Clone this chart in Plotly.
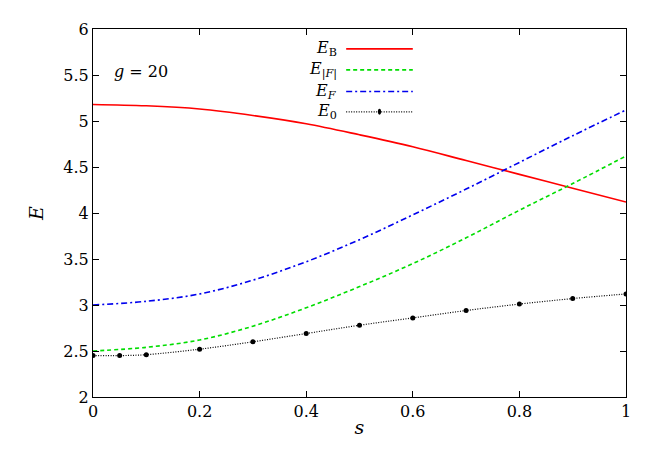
import plotly.graph_objects as go

s = [0, 0.1, 0.2, 0.3, 0.4, 0.5, 0.6, 0.7, 0.8, 0.9, 1.0]
E_B = [5.18, 5.165, 5.13, 5.06, 4.97, 4.85, 4.72, 4.57, 4.42, 4.27, 4.12]
E_absF = [2.50, 2.54, 2.62, 2.77, 2.97, 3.20, 3.45, 3.73, 4.03, 4.32, 4.62]
E_F = [3.00, 3.04, 3.12, 3.27, 3.47, 3.71, 3.98, 4.26, 4.55, 4.84, 5.12]
s0 = [0, 0.05, 0.1, 0.2, 0.3, 0.4, 0.5, 0.6, 0.7, 0.8, 0.9, 1.0]
E_0 = [2.45, 2.45, 2.46, 2.52, 2.60, 2.69, 2.78, 2.86, 2.94, 3.01, 3.07, 3.12]

DASH = "4px,3px"
DASHDOT = "6px,3px,2px,3px"
DOT = "1px,1.5px"
fig = go.Figure()
fig.add_trace(go.Scatter(x=s, y=E_B, mode="lines", line=dict(color="#ff0000", width=1.6, shape="spline")))
fig.add_trace(go.Scatter(x=s, y=E_absF, mode="lines", line=dict(color="#00dd00", width=1.6, dash=DASH, shape="spline")))
fig.add_trace(go.Scatter(x=s, y=E_F, mode="lines", line=dict(color="#0000ee", width=1.6, dash=DASHDOT, shape="spline")))
fig.add_trace(go.Scatter(x=s0, y=E_0, mode="lines+markers", line=dict(color="black", width=1.2, dash=DOT, shape="spline"),
                         marker=dict(size=5, color="black")))

font = dict(family="DejaVu Serif", size=16, color="black")
labels = [("<i>E</i><sub>B</sub>", "#ff0000", "solid", False),
          ("<i>E</i><sub>|<i>F</i>|</sub>", "#00dd00", DASH, False),
          ("<i>E</i><sub><i>F</i></sub>", "#0000ee", DASHDOT, False),
          ("<i>E</i><sub>0</sub>", "black", DOT, True)]
ys = [0.946, 0.889, 0.830, 0.775]
for (t, c, d, m), yy in zip(labels, ys):
    fig.add_annotation(x=0.462, y=yy, xref="paper", yref="paper", text=t, showarrow=False,
                       xanchor="right", yanchor="middle", font=font)
    fig.add_shape(type="line", xref="paper", yref="paper", x0=0.475, x1=0.60, y0=yy, y1=yy,
                  line=dict(color=c, width=1.6 if not m else 1.2, dash=d))
    if m:
        fig.add_shape(type="circle", xref="paper", yref="paper", x0=0.5345, x1=0.5405,
                      y0=yy - 0.008, y1=yy + 0.008, fillcolor="black", line=dict(width=0))
fig.add_annotation(x=0.035, y=0.885, xref="paper", yref="paper", text="<i>g</i> = 20", showarrow=False,
                   xanchor="left", yanchor="middle", font=font)

ax = dict(showgrid=False, zeroline=False, showline=True, mirror="ticks", linecolor="black",
          ticks="inside", ticklen=6, tickcolor="black", tickfont=font)
fig.update_layout(width=664, height=454, plot_bgcolor="white", paper_bgcolor="white",
                  showlegend=False, margin=dict(l=85, r=46, t=21, b=65), font=font,
                  xaxis=dict(range=[0, 1], dtick=0.2, title=dict(text="<i>s</i>", standoff=0), **ax),
                  yaxis=dict(range=[2, 6], dtick=0.5, title=dict(text="<i>E</i>", standoff=14), **ax))
fig.write_html("out.html")
